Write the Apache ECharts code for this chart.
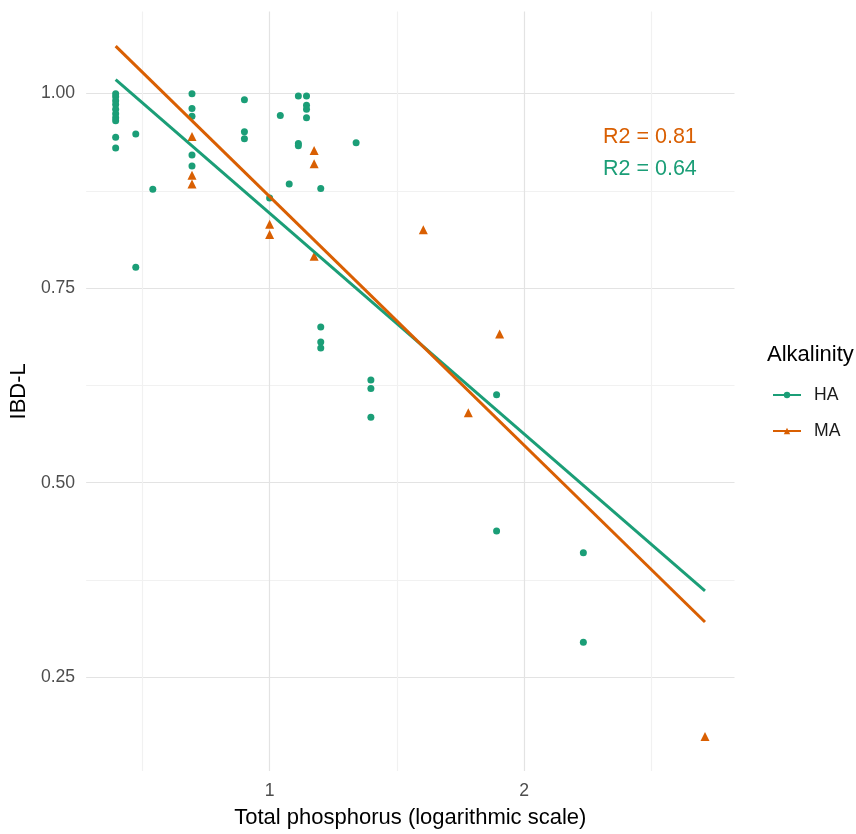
<!DOCTYPE html>
<html>
<head>
<meta charset="utf-8">
<script src="https://cdn.jsdelivr.net/npm/echarts@6/dist/echarts.min.js"></script>
<style>
  html, body { margin: 0; padding: 0; background: #fff; }
  #chart { width: 856px; height: 834px; }
</style>
</head>
<body>
<div id="chart"></div>
<script>
// HA points (total phosphorus on log scale, IBD-L)
const haTP = [0.395, 0.395, 0.395, 0.395, 0.395, 0.395, 0.395, 0.395, 0.395, 0.395,
              0.474, 0.474, 0.541, 0.695, 0.695, 0.695, 0.695, 0.695,
              0.901, 0.901, 0.901, 1.000, 1.042, 1.077, 1.113, 1.113, 1.113,
              1.145, 1.145, 1.145, 1.145, 1.201, 1.201, 1.201, 1.201, 1.340,
              1.398, 1.398, 1.398, 1.892, 1.892, 2.233, 2.233]
const haIBD = [1.000, 0.996, 0.991, 0.986, 0.980, 0.974, 0.969, 0.965, 0.944, 0.930,
               0.948, 0.777, 0.877, 1.000, 0.981, 0.971, 0.921, 0.907,
               0.992, 0.951, 0.942, 0.866, 0.972, 0.884, 0.997, 0.936, 0.933,
               0.997, 0.985, 0.980, 0.969, 0.878, 0.700, 0.681, 0.673, 0.937,
               0.632, 0.621, 0.584, 0.613, 0.438, 0.410, 0.295]

// MA points
const maTP = [0.695, 0.695, 0.695, 1.000, 1.000, 1.175, 1.175, 1.175, 1.604, 1.781, 1.904, 2.711]
const maIBD = [0.945, 0.895, 0.884, 0.832, 0.819, 0.927, 0.910, 0.791, 0.825, 0.590, 0.691, 0.174]

// fitted lines
const fitTP = [0.395, 2.711]
const haFit = [1.018, 0.361]
const maFit = [1.061, 0.321]

const xTicks = [0.5, 1, 1.5, 2, 2.5]
const xLabels = [1, 2]
const yTicks = [0.25, 0.375, 0.5, 0.625, 0.75, 0.875, 1]
const yLabels = [0.25, 0.5, 0.75, 1]

const r2Labels = ['R2 = 0.81', 'R2 = 0.64']

const colHA = '#1b9e77'
const colMA = '#d95f02'
const font = 'Liberation Sans, Arial, sans-serif'

const pairs = (xs, ys) => xs.map((x, i) => [x, ys[i]])

let myChart = echarts.init(document.getElementById('chart'))
let option = {
    animation: false,
    backgroundColor: '#fff',
    textStyle: { fontFamily: font },
    grid: { left: 81, right: 121.5, top: 11.6, bottom: 59 },
    title: {
        text: 'Alkalinity',
        left: 767,
        top: 344,
        padding: 0,
        textStyle: { fontFamily: font, fontSize: 22, fontWeight: 'normal', color: '#000' }
    },
    legend: {
        data: ['HA', 'MA'],
        orient: 'vertical',
        left: 772,
        top: 386,
        padding: 0,
        itemWidth: 28,
        itemHeight: 8,
        itemGap: 18,
        textStyle: { fontFamily: font, fontSize: 17.6, color: '#1a1a1a', padding: [0, 0, 0, 8] }
    },
    graphic: [
        { type: 'text', left: 603, top: 126, style: { text: r2Labels[0], fill: colMA, font: '21.5px ' + font } },
        { type: 'text', left: 603, top: 158, style: { text: r2Labels[1], fill: colHA, font: '21.5px ' + font } }
    ],
    xAxis: {
        type: 'value',
        min: 0.279,
        max: 2.827,
        name: 'Total phosphorus (logarithmic scale)',
        nameLocation: 'middle',
        nameGap: 36,
        nameTextStyle: { fontFamily: font, fontSize: 22, color: '#000' },
        axisLine: { show: false },
        axisTick: { show: false, customValues: xTicks },
        axisLabel: { customValues: xLabels, margin: 11, fontSize: 17.6, color: '#4d4d4d', fontFamily: font },
        splitLine: { show: true, lineStyle: { color: ['#f1f1f1', '#e3e3e3'], width: 1.2 } }
    },
    yAxis: {
        type: 'value',
        min: 0.1296,
        max: 1.1054,
        name: 'IBD-L',
        nameLocation: 'middle',
        nameGap: 48,
        nameTextStyle: { fontFamily: font, fontSize: 22, color: '#000' },
        axisLine: { show: false },
        axisTick: { show: false, customValues: yTicks },
        axisLabel: {
            customValues: yLabels, margin: 11, fontSize: 17.6, color: '#4d4d4d', fontFamily: font,
            formatter: v => v.toFixed(2)
        },
        splitLine: { show: true, lineStyle: { color: ['#e3e3e3', '#f1f1f1'], width: 1.2 } }
    },
    series: [
        {
            name: 'HA', type: 'line', data: pairs(fitTP, haFit),
            symbol: 'circle', showSymbol: false, z: 5,
            lineStyle: { color: colHA, width: 3 }, itemStyle: { color: colHA }
        },
        {
            name: 'MA', type: 'line', data: pairs(fitTP, maFit),
            symbol: 'triangle', showSymbol: false, z: 6,
            lineStyle: { color: colMA, width: 3 }, itemStyle: { color: colMA }
        },
        {
            name: 'HA', type: 'scatter', data: pairs(haTP, haIBD),
            symbol: 'circle', symbolSize: 7, z: 3, itemStyle: { color: colHA, opacity: 1 }
        },
        {
            name: 'MA', type: 'scatter', data: pairs(maTP, maIBD),
            symbol: 'triangle', symbolSize: 9, z: 3, itemStyle: { color: colMA, opacity: 1 }
        }
    ]
}
myChart.setOption(option)
</script>
</body>
</html>
